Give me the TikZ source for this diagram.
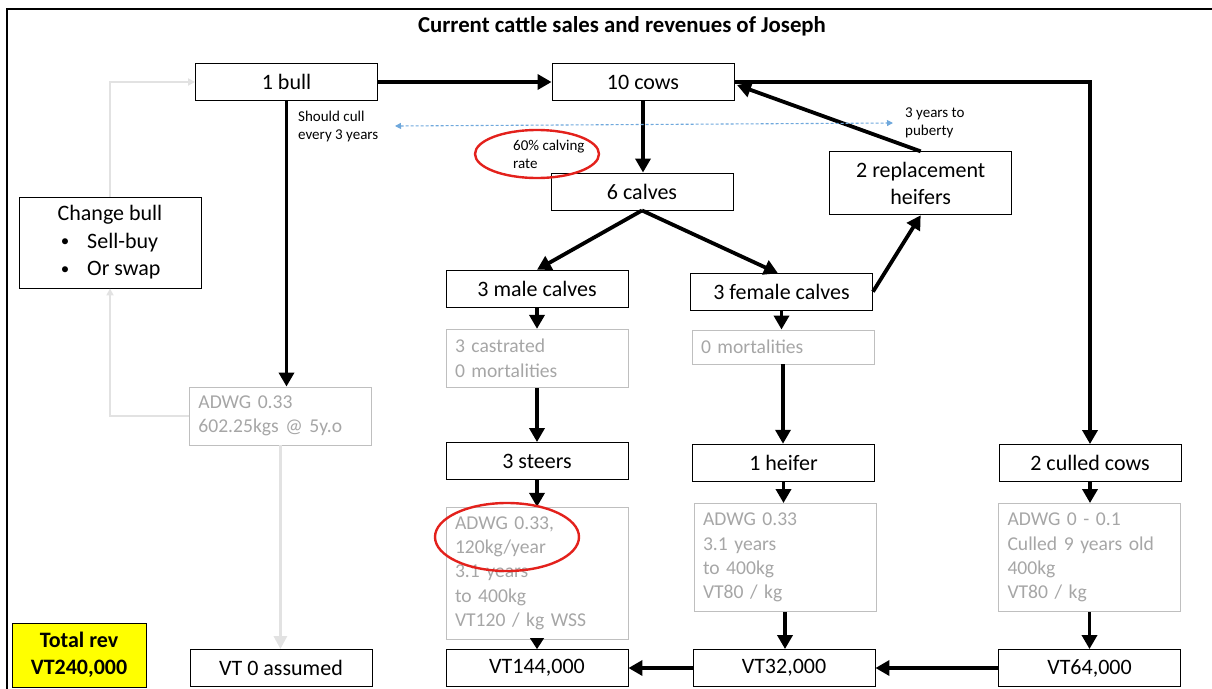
\documentclass[tikz,border=0pt]{standalone}
\usepackage{fontspec}
\setmainfont{Carlito}
\usetikzlibrary{arrows.meta}
\definecolor{gtext}{HTML}{A6A6A6}
\definecolor{gline}{HTML}{BFBFBF}
\definecolor{pale}{HTML}{E2E2E2}
\definecolor{dashblue}{HTML}{6FA8DC}
\definecolor{ringred}{HTML}{E3211C}
\definecolor{hilite}{HTML}{FFFF00}

\begin{document}
\begin{tikzpicture}[x=1pt,y=-1pt,
  box/.style={draw=black, line width=0.9pt, inner sep=0pt, align=center,
    font=\fontsize{22}{27}\selectfont, minimum width=182pt, minimum height=37pt},
  gbox/.style={draw=gline, line width=0.9pt, inner xsep=9pt, inner ysep=0pt,
    text=gtext, font=\fontsize{19.6}{24.3}\selectfont, align=left,
    text width=164pt, minimum width=182pt},
  note/.style={inner sep=0pt, align=left, anchor=west,
    font=\fontsize{15}{18}\selectfont},
  plain/.style={inner sep=0pt, font=\fontsize{22}{27}\selectfont},
  arr/.style={line width=3.8pt, -{Triangle[length=14pt,width=15pt]}},
  stub/.style={line width=1pt, -{Triangle[length=11pt,width=14pt]}},
  palearr/.style={draw=pale, line width=3pt, -{Triangle[length=13pt,width=13pt]}},
  paleloop/.style={draw=pale, line width=2pt, -{Triangle[length=7pt,width=7pt]}},
  span/.style={draw=dashblue, line width=1.1pt, dash pattern=on 3pt off 2pt,
    {Triangle[length=6pt,width=6pt]}-{Triangle[length=6pt,width=6pt]}},
  ring/.style={draw=ringred, line width=2.4pt}
]
\useasboundingbox (0,0) rectangle (1212,688);

% outer frame
\draw[line width=1.6pt] (7,700) -- (7,9) -- (1230,9);

% title
\node[inner sep=0pt, font=\bfseries\fontsize{22.8}{27}\selectfont] (title) at (622,26)
  {Current cattle sales and revenues of Joseph};

% herd boxes
\node[box] (bull) at (286.5,82) {1 bull};
\node[box] (cows) at (643,82) {10 cows};
\node[box] (calves) at (642,191.5) {6 calves};
\node[box, minimum height=63pt] (repl) at (920.7,183.3) {2 replacement\\heifers};
\node[box] (male) at (537,288.7) {3 male calves};
\node[box] (female) at (781.5,291.7) {3 female calves};
\node[box] (steers) at (537,461) {3 steers};
\node[box] (heifer) at (783.5,462.7) {1 heifer};
\node[box] (culled) at (1090,463) {2 culled cows};

% change bull box with its list
\node[box, minimum height=91pt] (change) at (110,242.5) {};
\node[plain] (changet) at (110,215) {Change bull};
\node[plain, font=\fontsize{17}{20}\selectfont] (b1) at (65,243) {\textbullet};
\node[plain, anchor=west] (s1) at (87,243) {Sell-buy};
\node[plain, font=\fontsize{17}{20}\selectfont] (b2) at (65,270.5) {\textbullet};
\node[plain, anchor=west] (s2) at (87,270.5) {Or swap};

% grey detail boxes
\node[gbox, minimum height=58pt] (bullg) at (280.4,416) {ADWG 0.33\\602.25kgs @ 5y.o};
\node[gbox, minimum height=58pt] (castr) at (537,358.3) {3 castrated\\0 mortalities};
\node[gbox, minimum height=34pt] (mort) at (783,347) {0 mortalities};
\node[gbox, minimum height=132pt] (steersg) at (537,573.3)
  {ADWG 0.33,\\120kg/year\\3.1 years\\to 400kg\\VT120 / kg WSS};
\node[gbox, minimum height=108pt] (heiferg) at (785,557.5)
  {ADWG 0.33\\3.1 years\\to 400kg\\VT80 / kg};
\node[gbox, minimum height=108pt] (culledg) at (1089.5,557.5)
  {ADWG 0 - 0.1\\Culled 9 years old\\400kg\\VT80 / kg};

% revenue boxes
\node[box, fill=hilite, minimum width=134pt, minimum height=64pt,
  font=\bfseries\fontsize{22}{27}\selectfont] (total) at (79,655) {Total rev\\VT240,000};
\node[box] (v0) at (281,668) {VT 0 assumed};
\node[box] (v144) at (537,668) {VT144,000};
\node[box] (v32) at (784,668) {VT32,000};
\node[box] (v64) at (1089.5,668) {VT64,000};

% notes
\node[note] (cullnote) at (298,126) {Should cull\\every 3 years};
\node[note] (calvnote) at (513,154) {60\% calving\\rate};
\node[note] (pubnote) at (905,122.5) {3 years to\\puberty};

% main flow
\draw[arr] (bull.east) -- (cows.west);
\draw[arr] (cows.east) -| (culled.north);
\draw[arr] (repl.north) -- (737,85);
\draw[arr] (cows.south) -- (cows.south |- calves.north);
\draw[arr] (calves.south) -- (male.north);
\draw[arr] (calves.south) -- (778,273.3);
\draw[arr] (female.east) -- (repl.south);
\draw[arr] (bull.south) -- (bull.south |- bullg.north);
\draw[arr] (male.south) -- (male.south |- castr.north);
\draw[arr] (castr.south) -- (castr.south |- steers.north);
\draw[arr] (steers.south) -- (steers.south |- steersg.north);
\draw[stub] (steersg.south) -- (steersg.south |- v144.north);
\draw[arr] (female.south) -- (female.south |- mort.north);
\draw[arr] (mort.south) -- (mort.south |- heifer.north);
\draw[arr] (heifer.south) -- (heifer.south |- heiferg.north);
\draw[arr] (heiferg.south) -- (heiferg.south |- v32.north);
\draw[arr] (culled.south) -- (culled.south |- culledg.north);
\draw[arr] (culledg.south) -- (culledg.south |- v64.north);
\draw[arr] (v64.west) -- (v32.east);
\draw[arr] (v32.west) -- (v144.east);

% pale bull replacement loop
\draw[palearr] (bullg.south) -- (bullg.south |- v0.north);
\draw[paleloop] (bullg.west) -| (change.south);
\draw[paleloop] (change.north) |- (bull.west);

% span between the two notes
\coordinate (spanl) at (395,126);
\coordinate (spanr) at (893,123);
\draw[span] (spanl) -- (spanr);

% highlights
\draw[ring] (537,154) ellipse [x radius=62pt, y radius=24pt];
\draw[ring] (507,537) ellipse [x radius=72pt, y radius=34pt];
\end{tikzpicture}
\end{document}
